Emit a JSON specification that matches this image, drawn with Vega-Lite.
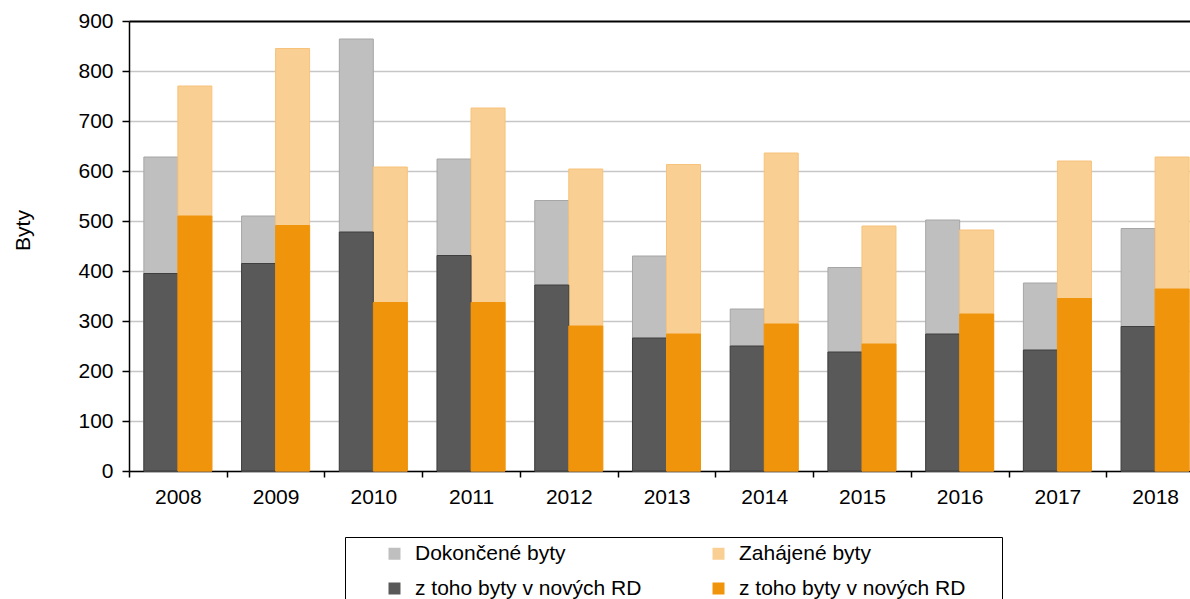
{
  "$schema": "https://vega.github.io/schema/vega-lite/v6.json",
  "width": 1061,
  "height": 450,
  "autosize": {"type": "none"},
  "padding": {"left": 129, "top": 21, "right": 0, "bottom": 128},
  "background": "white",
  "config": {
    "font": "Liberation Sans",
    "view": {"stroke": null},
    "axis": {"labelFont": "Liberation Sans", "titleFont": "Liberation Sans", "labelColor": "#000", "titleColor": "#000"}
  },
  "data": {
    "values": [
      {"rok": "2008", "skupina": "D", "rada": "Dokončené byty", "hodnota": 628},
      {"rok": "2009", "skupina": "D", "rada": "Dokončené byty", "hodnota": 510},
      {"rok": "2010", "skupina": "D", "rada": "Dokončené byty", "hodnota": 864},
      {"rok": "2011", "skupina": "D", "rada": "Dokončené byty", "hodnota": 624},
      {"rok": "2012", "skupina": "D", "rada": "Dokončené byty", "hodnota": 541},
      {"rok": "2013", "skupina": "D", "rada": "Dokončené byty", "hodnota": 430},
      {"rok": "2014", "skupina": "D", "rada": "Dokončené byty", "hodnota": 324},
      {"rok": "2015", "skupina": "D", "rada": "Dokončené byty", "hodnota": 407},
      {"rok": "2016", "skupina": "D", "rada": "Dokončené byty", "hodnota": 502},
      {"rok": "2017", "skupina": "D", "rada": "Dokončené byty", "hodnota": 376},
      {"rok": "2018", "skupina": "D", "rada": "Dokončené byty", "hodnota": 485},
      {"rok": "2008", "skupina": "Z", "rada": "Zahájené byty", "hodnota": 770},
      {"rok": "2009", "skupina": "Z", "rada": "Zahájené byty", "hodnota": 845},
      {"rok": "2010", "skupina": "Z", "rada": "Zahájené byty", "hodnota": 608},
      {"rok": "2011", "skupina": "Z", "rada": "Zahájené byty", "hodnota": 726},
      {"rok": "2012", "skupina": "Z", "rada": "Zahájené byty", "hodnota": 604},
      {"rok": "2013", "skupina": "Z", "rada": "Zahájené byty", "hodnota": 613},
      {"rok": "2014", "skupina": "Z", "rada": "Zahájené byty", "hodnota": 636},
      {"rok": "2015", "skupina": "Z", "rada": "Zahájené byty", "hodnota": 490},
      {"rok": "2016", "skupina": "Z", "rada": "Zahájené byty", "hodnota": 482},
      {"rok": "2017", "skupina": "Z", "rada": "Zahájené byty", "hodnota": 620},
      {"rok": "2018", "skupina": "Z", "rada": "Zahájené byty", "hodnota": 628},
      {"rok": "2008", "skupina": "D", "rada": "z toho byty v nových RD (dokončené)", "hodnota": 395},
      {"rok": "2009", "skupina": "D", "rada": "z toho byty v nových RD (dokončené)", "hodnota": 415},
      {"rok": "2010", "skupina": "D", "rada": "z toho byty v nových RD (dokončené)", "hodnota": 478},
      {"rok": "2011", "skupina": "D", "rada": "z toho byty v nových RD (dokončené)", "hodnota": 431},
      {"rok": "2012", "skupina": "D", "rada": "z toho byty v nových RD (dokončené)", "hodnota": 372},
      {"rok": "2013", "skupina": "D", "rada": "z toho byty v nových RD (dokončené)", "hodnota": 266},
      {"rok": "2014", "skupina": "D", "rada": "z toho byty v nových RD (dokončené)", "hodnota": 250},
      {"rok": "2015", "skupina": "D", "rada": "z toho byty v nových RD (dokončené)", "hodnota": 238},
      {"rok": "2016", "skupina": "D", "rada": "z toho byty v nových RD (dokončené)", "hodnota": 274},
      {"rok": "2017", "skupina": "D", "rada": "z toho byty v nových RD (dokončené)", "hodnota": 242},
      {"rok": "2018", "skupina": "D", "rada": "z toho byty v nových RD (dokončené)", "hodnota": 289},
      {"rok": "2008", "skupina": "Z", "rada": "z toho byty v nových RD (zahájené)", "hodnota": 510},
      {"rok": "2009", "skupina": "Z", "rada": "z toho byty v nových RD (zahájené)", "hodnota": 491},
      {"rok": "2010", "skupina": "Z", "rada": "z toho byty v nových RD (zahájené)", "hodnota": 337},
      {"rok": "2011", "skupina": "Z", "rada": "z toho byty v nových RD (zahájené)", "hodnota": 337},
      {"rok": "2012", "skupina": "Z", "rada": "z toho byty v nových RD (zahájené)", "hodnota": 290},
      {"rok": "2013", "skupina": "Z", "rada": "z toho byty v nových RD (zahájené)", "hodnota": 274},
      {"rok": "2014", "skupina": "Z", "rada": "z toho byty v nových RD (zahájené)", "hodnota": 294},
      {"rok": "2015", "skupina": "Z", "rada": "z toho byty v nových RD (zahájené)", "hodnota": 254},
      {"rok": "2016", "skupina": "Z", "rada": "z toho byty v nových RD (zahájené)", "hodnota": 314},
      {"rok": "2017", "skupina": "Z", "rada": "z toho byty v nových RD (zahájené)", "hodnota": 345},
      {"rok": "2018", "skupina": "Z", "rada": "z toho byty v nových RD (zahájené)", "hodnota": 364}
    ]
  },
  "mark": {"type": "bar", "strokeWidth": 1},
  "encoding": {
    "x": {
      "field": "rok",
      "type": "nominal",
      "scale": {"range": [0, 1075], "paddingInner": 0, "paddingOuter": 0},
      "axis": {
        "title": null,
        "labelAngle": 0,
        "labelFontSize": 21,
        "labelPadding": 9,
        "tickSize": 6,
        "tickWidth": 1.5,
        "tickColor": "#000",
        "tickBand": "extent",
        "domainColor": "#000",
        "domainWidth": 1.5,
        "grid": false
      }
    },
    "xOffset": {
      "field": "skupina",
      "type": "nominal",
      "scale": {"paddingInner": 0, "paddingOuter": 0.437}
    },
    "y": {
      "field": "hodnota",
      "type": "quantitative",
      "stack": null,
      "scale": {"domain": [0, 900], "nice": false},
      "axis": {
        "title": "Byty",
        "titleFontSize": 21,
        "titleFontWeight": "normal",
        "titleAngle": 270,
        "titleX": -106,
        "titleY": 209,
        "titleAlign": "center",
        "titleBaseline": "middle",
        "values": [0, 100, 200, 300, 400, 500, 600, 700, 800, 900],
        "labelFontSize": 21,
        "labelPadding": 9,
        "tickSize": 7,
        "tickWidth": 1.5,
        "tickColor": "#000",
        "domainColor": "#000",
        "domainWidth": 1.5,
        "grid": true,
        "gridColor": {"condition": {"test": "datum.value === 900", "value": "#000"}, "value": "#c6c6c6"},
        "gridWidth": {"condition": {"test": "datum.value === 900", "value": 2}, "value": 1.5}
      }
    },
    "color": {
      "field": "rada",
      "type": "nominal",
      "scale": {
        "domain": ["Dokončené byty", "Zahájené byty", "z toho byty v nových RD (dokončené)", "z toho byty v nových RD (zahájené)"],
        "range": ["#bfbfbf", "#f9cf93", "#595959", "#f0940c"]
      },
      "legend": {
        "orient": "none",
        "legendX": 216,
        "legendY": 516,
        "columns": 2,
        "direction": "horizontal",
        "title": " ",
        "titleOrient": "left",
        "titleFontSize": 1,
        "titlePadding": 33,
        "strokeColor": "#000",
        "padding": 6,
        "symbolType": "square",
        "symbolSize": 144,
        "symbolStrokeWidth": 0,
        "labelFontSize": 21,
        "labelColor": "#000",
        "labelOffset": 10,
        "labelLimit": 400,
        "rowPadding": 13,
        "columnPadding": 66,
        "labelExpr": "datum.value == 'z toho byty v nových RD (zahájené)' ? 'z toho byty v nových RD\u2800\u2800' : (indexof(datum.label, 'z toho') == 0 ? 'z toho byty v nových RD' : datum.label)"
      }
    },
    "stroke": {
      "field": "rada",
      "type": "nominal",
      "scale": {
        "domain": ["Dokončené byty", "Zahájené byty", "z toho byty v nových RD (dokončené)", "z toho byty v nových RD (zahájené)"],
        "range": ["#a6a6a6", "#f7c37a", "#3f3f3f", "#f0940c"]
      },
      "legend": null
    }
  }
}
